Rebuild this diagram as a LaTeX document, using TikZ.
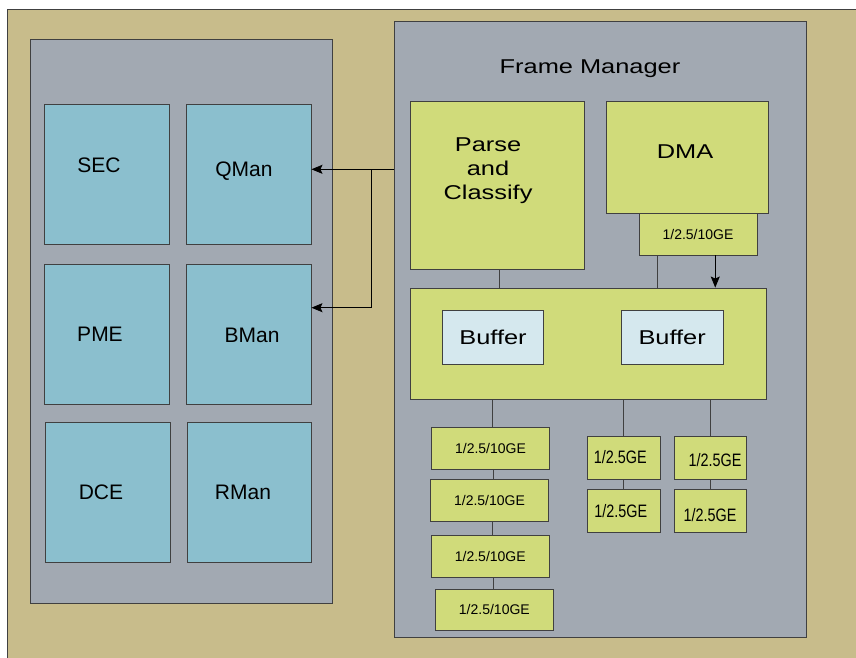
\documentclass[tikz,border=0pt]{standalone}
\usepackage{fontspec}
\setmainfont{Liberation Sans}
\usetikzlibrary{arrows.meta}
\definecolor{tan}{RGB}{200,188,139}
\definecolor{panel}{RGB}{162,169,178}
\definecolor{engine}{RGB}{139,191,206}
\definecolor{lime}{RGB}{208,219,122}
\definecolor{bufcol}{RGB}{213,232,238}
\newcommand{\wtext}[1]{\scalebox{1.27}[1]{#1}}
\newcommand{\ntext}[1]{\scalebox{0.8}[1]{#1}}
\begin{document}
\begin{tikzpicture}[x=1pt, y=-1pt,
  box/.style={draw=black!75, line width=0.9pt, inner sep=0pt},
  engbox/.style={box, fill=engine, minimum width=124.5pt, minimum height=140pt},
  limebox/.style={box, fill=lime},
  lbl/.style={font=\fontsize{21}{25}\selectfont, inner sep=0pt, yshift=-2pt},
  wide/.style={font=\fontsize{20}{24}\selectfont, inner sep=0pt, align=center},
  wlbl/.style={wide, yshift=-2pt},
  small/.style={font=\fontsize{14}{16}\selectfont, inner sep=0pt},
  narrow/.style={font=\fontsize{18}{20}\selectfont, inner sep=0pt},
  arr/.style={-{Stealth[length=11pt,width=9pt,inset=2pt]}, line width=0.8pt}]
\useasboundingbox (0,0) rectangle (856,658);
\fill[tan] (7.5,9.5) rectangle (856,658);
\draw[black!75, line width=0.9pt] (7.5,658) -- (7.5,9.5) -- (856,9.5);

% engines
\node[box, fill=panel, minimum width=302pt, minimum height=564pt] (soc) at (181.5,321) {};
\node[engbox] (sec) at (106.75,174) {};
\node[engbox] (qman) at (248.75,174) {};
\node[engbox] (pme) at (106.75,334) {};
\node[engbox] (bman) at (248.75,334) {};
\node[engbox] (dce) at (107.75,492) {};
\node[engbox, minimum width=124pt] (rman) at (249.5,492) {};
\node[lbl] (sec-l) at (99,163) {SEC};
\node[lbl] (qman-l) at (244,169) {QMan};
\node[lbl] (pme-l) at (100,332) {PME};
\node[lbl] (bman-l) at (252,333) {BMan};
\node[lbl] (dce-l) at (101,490) {DCE};
\node[lbl] (rman-l) at (243,490) {RMan};

% frame manager
\node[box, fill=panel, minimum width=411.6pt, minimum height=615.3pt] (fm) at (600.5,329.35) {};
\node[wlbl] (fm-l) at (590,67) {\wtext{Frame Manager}};
\node[limebox, minimum width=173.6pt, minimum height=167.7pt] (parse) at (497.5,185.15) {};
\node[wlbl] (parse-l) at (488,169) {\wtext{Parse}\\\wtext{and}\\\wtext{Classify}};
\node[limebox, minimum width=162pt, minimum height=112pt] (dma) at (687,157.3) {};
\node[wlbl] (dma-l) at (685,150) {\wtext{DMA}};
\node[limebox, minimum width=118pt, minimum height=41.7pt] (port) at (698.3,234.15) {};
\node[small] (port-l) at (698,234) {1/2.5/10GE};
\node[limebox, minimum width=355.6pt, minimum height=111.7pt] (fifo) at (588.5,343.85) {};
\node[box, fill=bufcol, minimum width=101.4pt, minimum height=53.6pt, wide] (buf1) at (493,337.5) {\wtext{Buffer}};
\node[box, fill=bufcol, minimum width=101.7pt, minimum height=53.6pt, wide] (buf2) at (672.15,337.5) {\wtext{Buffer}};

% ports
\node[limebox, minimum width=118.4pt, minimum height=42pt, small] (g1) at (490.5,448.3) {1/2.5/10GE};
\node[limebox, minimum width=118.4pt, minimum height=42pt, small] (g2) at (489.5,500) {1/2.5/10GE};
\node[limebox, minimum width=118pt, minimum height=42pt, small] (g3) at (490.3,556.7) {1/2.5/10GE};
\node[limebox, minimum width=118.7pt, minimum height=41.7pt, small] (g4) at (494.35,609.85) {1/2.5/10GE};
\node[limebox, minimum width=72.7pt, minimum height=43pt] (h1) at (623.65,457.5) {};
\node[limebox, minimum width=72.7pt, minimum height=43pt] (h2) at (623.65,510.8) {};
\node[limebox, minimum width=72.4pt, minimum height=43pt] (h3) at (710.5,457.5) {};
\node[limebox, minimum width=72.4pt, minimum height=43pt] (h4) at (710.5,510.8) {};
\node[narrow] (h1-l) at (620.3,457.3) {\ntext{1/2.5GE}};
\node[narrow] (h2-l) at (620.7,511.3) {\ntext{1/2.5GE}};
\node[narrow] (h3-l) at (715,460.3) {\ntext{1/2.5GE}};
\node[narrow] (h4-l) at (710,515.3) {\ntext{1/2.5GE}};

% connectors
\draw[black!75, line width=0.9pt] ([xshift=1.5pt]parse.south) -- ([xshift=1.5pt]parse.south |- fifo.north);
\draw[black!75, line width=0.9pt] ([xshift=18.4pt]port.south west) -- ([xshift=18.4pt]port.south west |- fifo.north);
\draw[arr] ([xshift=76.4pt]port.south west) -- ([xshift=76.4pt]port.south west |- fifo.north);
\draw[black!75, line width=0.9pt] ([xshift=1.5pt]g1.north |- fifo.south) -- ([xshift=1.5pt]g1.north);
\foreach \a/\b in {g1/g2,g2/g3,g3/g4}
  \draw[black!75, line width=0.9pt] ([xshift=3pt]\a.south) -- ([xshift=3pt]\a.south |- \b.north);
\foreach \a/\b in {h1/h2,h3/h4}{
  \draw[black!75, line width=0.9pt] (\a.north |- fifo.south) -- (\a.north);
  \draw[black!75, line width=0.9pt] (\a.south) -- (\b.north);
}
\coordinate (jn) at (371.7,169.3);
\draw[arr] (jn -| fm.west) -- (jn -| qman.east);
\draw[arr] (jn) |- ([yshift=26.3pt]bman.east);
\end{tikzpicture}
\end{document}
